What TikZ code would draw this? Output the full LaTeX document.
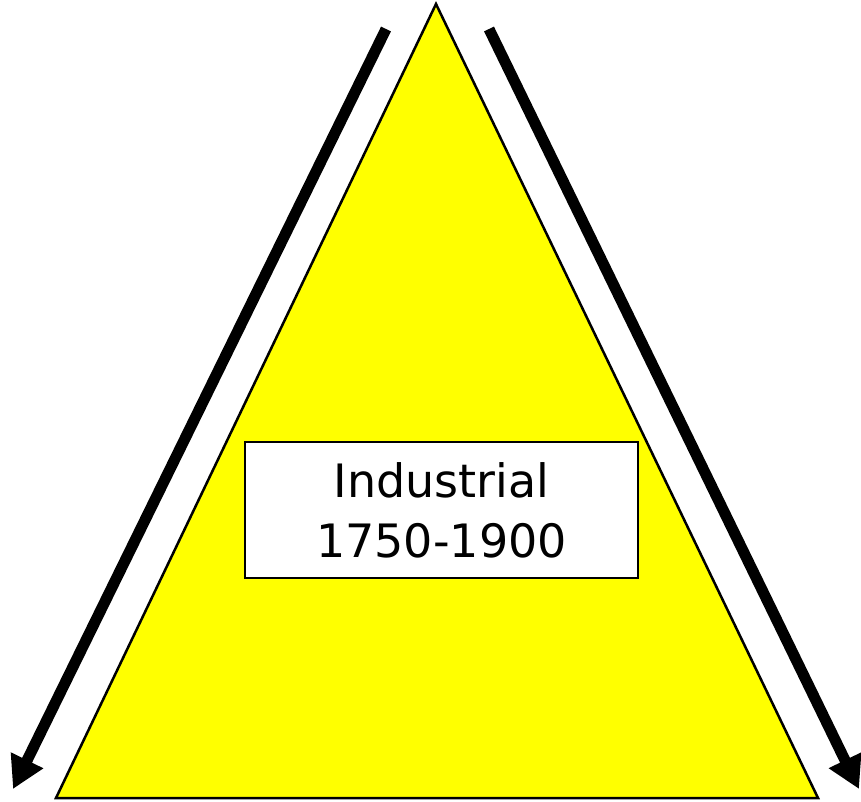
\documentclass[tikz,border=0pt]{standalone}
\usepackage{fontspec}
\setmainfont{DejaVu Sans}
\usetikzlibrary{arrows.meta}
\definecolor{yel}{RGB}{255,255,0}
\definecolor{blk}{RGB}{0,0,0}
\tikzset{
  tri/.style={draw=blk, line width=2.5pt, fill=yel, line join=miter},
  labelbox/.style={draw=blk, line width=2.5pt, fill=white, minimum width=393pt, minimum height=136pt, inner sep=0pt, align=center, font=\fontsize{46}{60}\selectfont},
  bigarrow/.style={draw=blk, line width=11pt, -{Triangle[length=32pt,width=34pt]}}
}
\begin{document}
\begin{tikzpicture}[x=1pt,y=-1pt]
\useasboundingbox (0,0) rectangle (861,802);
\coordinate (apex) at (436,4);
\coordinate (bl) at (56,798);
\coordinate (br) at (818,798);
\draw[tri] (apex) -- (br) -- (bl) -- cycle;
\node[labelbox] (lbl) at (441.5,510) {Industrial\\1750-1900};
\coordinate (ls) at (386,29);
\coordinate (le) at (13,789);
\coordinate (rs) at (489,29);
\coordinate (re) at (859,789);
\draw[bigarrow] (ls) -- (le);
\draw[bigarrow] (rs) -- (re);
\end{tikzpicture}
\end{document}
